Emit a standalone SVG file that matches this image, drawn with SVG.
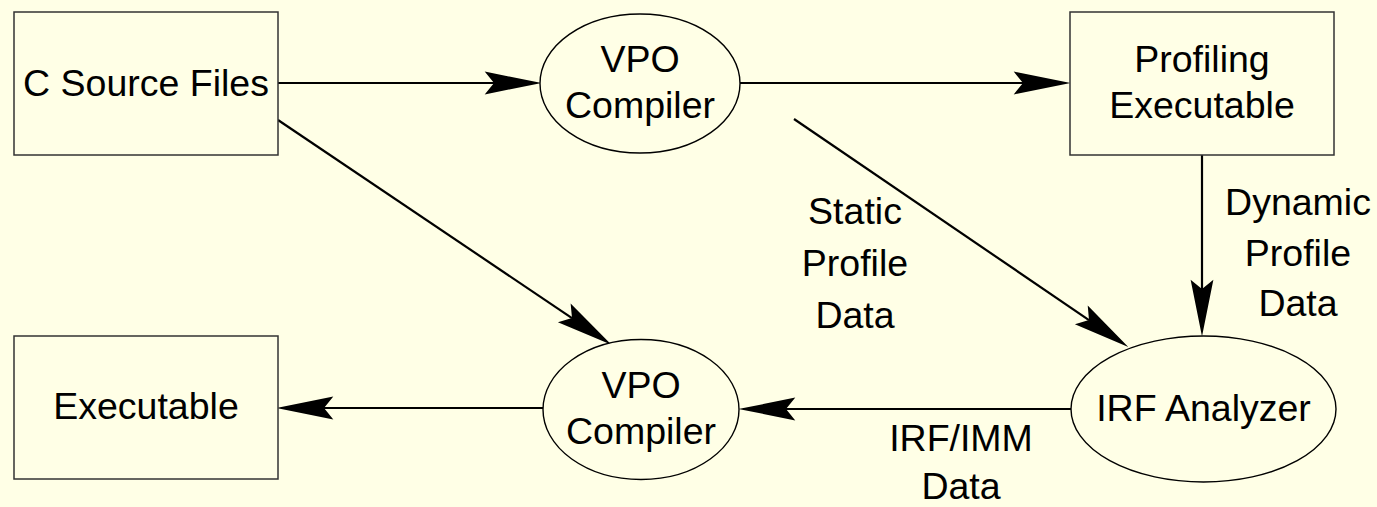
<svg xmlns="http://www.w3.org/2000/svg" width="1377" height="507" viewBox="0 0 1377 507">
<defs>
<style>
.box{fill:#FFFFE6;stroke:#333;stroke-width:1.5}
.ell{fill:#FFFFE6;stroke:#000;stroke-width:1.4}
.t{font-family:"Liberation Sans",Arial,sans-serif;font-size:37.5px;fill:#000;text-anchor:middle}
.c{stroke:#000;stroke-width:2.2;fill:none;marker-end:url(#ah)}
</style>
<marker id="ah" markerUnits="userSpaceOnUse" markerWidth="60" markerHeight="30" viewBox="-10 -12 58 24" refX="0" refY="0" orient="auto">
<path d="M46,0 L-9,-11 L0,0 L-9,11 Z" fill="#000"/>
</marker>
</defs>
<rect width="1377" height="507" fill="#FFFFE6"/>
<g id="connectors">
<line class="c" x1="278" y1="83" x2="494" y2="83"/>
<line class="c" x1="740" y1="83" x2="1023" y2="83"/>
<line class="c" x1="1202" y1="155" x2="1202" y2="289"/>
<line class="c" x1="1071" y1="409" x2="786" y2="409"/>
<line class="c" x1="543" y1="408" x2="324" y2="408"/>
<line class="c" x1="278" y1="120" x2="572" y2="318.1"/>
<line class="c" x1="794" y1="119" x2="1089" y2="320.1"/>
</g>
<g id="csource">
<rect class="box" x="14" y="12" width="264" height="143"/>
<text class="t" x="146" y="96">C Source Files</text>
</g>
<g id="vpo1">
<ellipse class="ell" cx="640" cy="83.5" rx="100" ry="69.5"/>
<text class="t" x="640" y="72">VPO</text>
<text class="t" x="640" y="118">Compiler</text>
</g>
<g id="profexe">
<rect class="box" x="1070" y="12" width="264" height="143"/>
<text class="t" x="1202" y="72">Profiling</text>
<text class="t" x="1202" y="118">Executable</text>
</g>
<g id="irf">
<ellipse class="ell" cx="1203.5" cy="409" rx="132.5" ry="73"/>
<text class="t" x="1203.5" y="421">IRF Analyzer</text>
</g>
<g id="vpo2">
<ellipse class="ell" cx="641" cy="409.5" rx="98" ry="70"/>
<text class="t" x="641" y="398">VPO</text>
<text class="t" x="641" y="444">Compiler</text>
</g>
<g id="exe">
<rect class="box" x="14" y="336" width="264" height="143"/>
<text class="t" x="146" y="419">Executable</text>
</g>
<g id="labels">
<text class="t" x="855" y="224">Static</text>
<text class="t" x="855" y="276">Profile</text>
<text class="t" x="855" y="328">Data</text>
<text class="t" x="1298" y="215">Dynamic</text>
<text class="t" x="1298" y="265.5">Profile</text>
<text class="t" x="1298" y="316">Data</text>
<text class="t" x="961" y="451">IRF/IMM</text>
<text class="t" x="961" y="499">Data</text>
</g>
</svg>
